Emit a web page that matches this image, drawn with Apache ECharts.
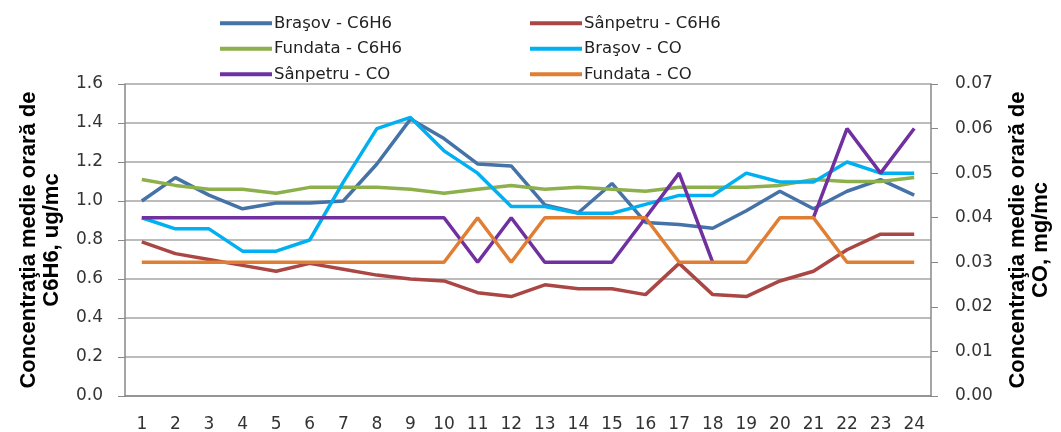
<!DOCTYPE html>
<html>
<head>
<meta charset="utf-8">
<script src="https://cdn.jsdelivr.net/npm/echarts@6/dist/echarts.min.js"></script>
<style>
  html, body { margin: 0; padding: 0; background: #fff; }
  #main { width: 1061px; height: 432px; }
</style>
</head>
<body>
<div id="main"></div>
<script>
// hours of the day
var hours = ["1","2","3","4","5","6","7","8","9","10","11","12","13","14","15","16","17","18","19","20","21","22","23","24"];

// C6H6, ug/mc (left axis)
var brasovC6H6 = [1.00,1.12,1.03,0.96,0.99,0.99,1.00,1.19,1.42,1.32,1.19,1.18,0.98,0.94,1.09,0.89,0.88,0.86,0.95,1.05,0.96,1.05,1.11,1.03];
var sanpetruC6H6 = [0.79,0.73,0.70,0.67,0.64,0.68,0.65,0.62,0.60,0.59,0.53,0.51,0.57,0.55,0.55,0.52,0.68,0.52,0.51,0.59,0.64,0.75,0.83,0.83];
var fundataC6H6 = [1.11,1.08,1.06,1.06,1.04,1.07,1.07,1.07,1.06,1.04,1.06,1.08,1.06,1.07,1.06,1.05,1.07,1.07,1.07,1.08,1.11,1.10,1.10,1.12];

// CO, mg/mc (right axis)
var brasovCO = [0.040,0.0375,0.0375,0.0325,0.0325,0.035,0.048,0.060,0.0625,0.055,0.050,0.0425,0.0425,0.041,0.041,0.043,0.045,0.045,0.050,0.048,0.048,0.0525,0.050,0.050];
var sanpetruCO = [0.04,0.04,0.04,0.04,0.04,0.04,0.04,0.04,0.04,0.04,0.03,0.04,0.03,0.03,0.03,0.04,0.05,0.03,null,null,0.04,0.06,0.05,0.06];
var fundataCO = [0.03,0.03,0.03,0.03,0.03,0.03,0.03,0.03,0.03,0.03,0.04,0.03,0.04,0.04,0.04,0.04,0.03,0.03,0.03,0.04,0.04,0.03,0.03,0.03];

var chart = echarts.init(document.getElementById("main"));

function line(name, data, color, axis) {
  return {
    name: name,
    type: "line",
    yAxisIndex: axis,
    data: data,
    color: color,
    symbol: "none",
    connectNulls: false,
    lineStyle: { width: 3.5, color: color }
  };
}

var legendCommon = {
  orient: "vertical",
  top: 8,
  icon: "rect",
  itemWidth: 52,
  itemHeight: 4,
  itemGap: 5,
  textStyle: { fontFamily: "DejaVu Sans", fontSize: 16.5, color: "#222", lineHeight: 20.5, padding: [0, 0, 0, -3] }
};

var nameStyle = { fontFamily: "Liberation Sans", fontWeight: "bold", fontSize: 22, lineHeight: 23, color: "#000" };
var tickFont = { fontFamily: "DejaVu Sans", fontSize: 17, color: "#333" };

chart.setOption({
  animation: false,
  backgroundColor: "#fff",
  grid: { left: 125, right: 130, top: 84, bottom: 36, outerBoundsMode: "none", containLabel: false },
  legend: [
    Object.assign({ left: 215, data: ["Braşov - C6H6", "Fundata - C6H6", "Sânpetru - CO"] }, legendCommon),
    Object.assign({ left: 525, data: ["Sânpetru - C6H6", "Braşov - CO", "Fundata - CO"] }, legendCommon)
  ],
  xAxis: {
    type: "category",
    data: hours,
    boundaryGap: true,
    axisLine: { lineStyle: { color: "#888", width: 1.5 } },
    axisTick: { show: false },
    axisLabel: Object.assign({ margin: 20 }, tickFont)
  },
  yAxis: [
    {
      type: "value",
      min: 0,
      max: 1.6,
      interval: 0.2,
      name: "Concentraţia medie orară de\nC6H6, ug/mc",
      nameLocation: "middle",
      nameRotate: 90,
      nameGap: 62,
      nameTextStyle: nameStyle,
      axisLine: { show: true, lineStyle: { color: "#888", width: 1.5 } },
      axisTick: { show: true, length: 7, lineStyle: { color: "#888" } },
      splitLine: { lineStyle: { color: "#a6a6a6", width: 1.5 } },
      axisLabel: Object.assign({ margin: 22, formatter: function (v) { return v.toFixed(1); } }, tickFont)
    },
    {
      type: "value",
      position: "right",
      min: 0,
      max: 0.07,
      interval: 0.01,
      name: "Concentraţia medie orară de\nCO, mg/mc",
      nameLocation: "middle",
      nameRotate: 90,
      nameGap: 75,
      nameTextStyle: nameStyle,
      axisLine: { show: true, lineStyle: { color: "#888", width: 1.5 } },
      axisTick: { show: true, length: 7, lineStyle: { color: "#888" } },
      splitLine: { show: false },
      axisLabel: Object.assign({ margin: 24, formatter: function (v) { return v.toFixed(2); } }, tickFont)
    }
  ],
  series: [
    line("Braşov - C6H6", brasovC6H6, "#4572a7", 0),
    line("Sânpetru - C6H6", sanpetruC6H6, "#aa4643", 0),
    line("Fundata - C6H6", fundataC6H6, "#8db04c", 0),
    line("Braşov - CO", brasovCO, "#00b0f0", 1),
    line("Sânpetru - CO", sanpetruCO, "#7030a0", 1),
    line("Fundata - CO", fundataCO, "#e07e33", 1)
  ]
});
</script>
</body>
</html>
